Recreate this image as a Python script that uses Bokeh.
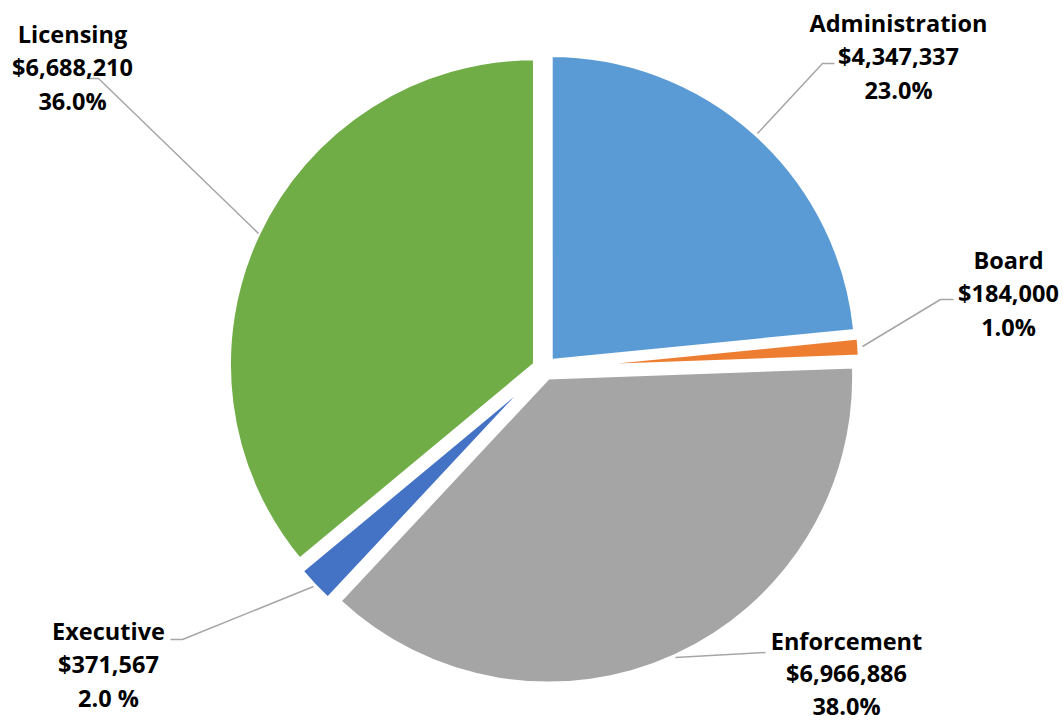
import math
from bokeh.plotting import figure
from bokeh.models import Range1d, ColumnDataSource
from bokeh.core.properties import value
from bokeh.embed import file_html
from bokeh.resources import INLINE

# ---- data ----
names = ["Administration", "Board", "Enforcement", "Executive", "Licensing"]
amounts = [4347337, 184000, 6966886, 371567, 6688210]
pct_labels = ["23.0%", "1.0%", "38.0%", "2.0 %", "36.0%"]
colors = ["#5B9BD5", "#ED7D31", "#A5A5A5", "#4472C4", "#70AD47"]

# ---- layout ----
W, H = 1063, 722
CX, CY = 543.5, H - 368
R = 306
EXPLODE = 10
label_pos = [(898, 22), (1008, 259), (846, 640), (108, 630), (72, 33)]  # screen coords of first line
line_gaps = [33.5, 33.5, 32.5, 33.5, 33.5]
leaders = [
    [(757, 133), (822, 63), (834, 63)],
    [(862, 346), (940, 299), (953, 299)],
    [(675, 657), (765, 652)],
    [(313, 586), (182, 639), (170, 639)],
    [(258, 233), (98, 78), (87, 78)],
]

p = figure(width=W, height=H, output_backend="svg", toolbar_location=None,
           x_range=Range1d(0, W), y_range=Range1d(0, H), min_border=0)
p.axis.visible = False
p.grid.visible = False
p.outline_line_color = None
p.background_fill_color = "white"
p.border_fill_color = "white"

total = float(sum(amounts))
xs, ys, starts, ends = [], [], [], []
cum = 0.0
for a in amounts:
    f0 = cum / total
    cum += a
    f1 = cum / total
    a_end = math.pi / 2 - 2 * math.pi * f0
    a_start = math.pi / 2 - 2 * math.pi * f1
    mid = (a_start + a_end) / 2
    xs.append(CX + EXPLODE * math.cos(mid))
    ys.append(CY + EXPLODE * math.sin(mid))
    starts.append(a_start)
    ends.append(a_end)

src = ColumnDataSource(dict(x=xs, y=ys, s=starts, e=ends, c=colors))
p.wedge(x="x", y="y", radius=R, start_angle="s", end_angle="e", direction="anticlock",
        fill_color="c", line_color="white", line_width=4, source=src)

# leader lines
for pts in leaders:
    p.line([q[0] for q in pts], [H - q[1] for q in pts], line_color="#A6A6A6", line_width=1.5)

# labels
tx, ty, tt = [], [], []
for i, n in enumerate(names):
    lx, ly = label_pos[i]
    rows = [n, "${:,}".format(amounts[i]), pct_labels[i]]
    for k, row in enumerate(rows):
        tx.append(lx)
        ty.append(H - (ly + k * line_gaps[i]))
        tt.append(row)
p.text(x=tx, y=ty, text=tt, text_align="center", text_baseline="middle",
       text_font=value("Open Sans"), text_font_style="bold", text_font_size="23.5px",
       text_color="#000000")

open("out.html", "w").write(file_html(p, INLINE))
